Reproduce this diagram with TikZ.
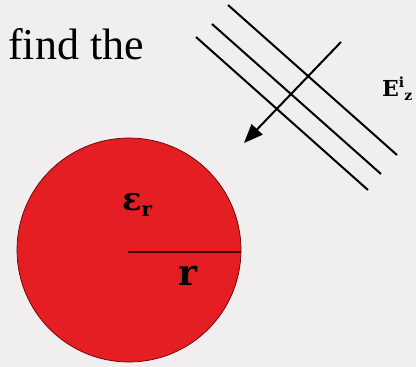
\documentclass[tikz,border=0pt]{standalone}
\usepackage{fontspec}
\newfontfamily\txtfont{Liberation Serif}
\newfontfamily\lblfont{DejaVu Serif}
\usetikzlibrary{arrows.meta}
\definecolor{bgc}{HTML}{F0EEEF}
\definecolor{ballred}{HTML}{E41E22}
\newcommand{\bigtxt}{\fontsize{44}{50}\selectfont}
\newcommand{\lblsize}[1]{\fontsize{#1}{#1}\selectfont}
\begin{document}
\begin{tikzpicture}[x=1pt,y=-1pt,
  wave/.style={line width=2pt,black},
  lbl/.style={inner sep=0pt,anchor=base west}]
\useasboundingbox (0,0) rectangle (416,367);
\fill[bgc] (0,0) rectangle (416,367);
% sphere
\coordinate (c) at (129,250);
\fill[ballred,draw=black!60!red,line width=0.7pt] (c) circle[radius=112];
\coordinate (rim) at (241,252);
\coordinate (cen) at (128,252);
\draw[black!70!red,line width=1.2pt] (cen) -- (rim);
% wave fronts
\coordinate (a1) at (228,5);   \coordinate (b1) at (397,155);
\coordinate (a2) at (212,24);  \coordinate (b2) at (381,174);
\coordinate (a3) at (196,37);  \coordinate (b3) at (368,190);
\draw[wave] (a1) -- (b1);
\draw[wave] (a2) -- (b2);
\draw[wave] (a3) -- (b3);
% propagation arrow
\coordinate (p0) at (341,42);
\coordinate (p1) at (244,143);
\draw[wave,-{Triangle[length=19pt,width=15pt]}] (p0) -- (p1);
% texts
\node[lbl,font=\txtfont\bigtxt] (find) at (8,59) {find the};
\node[lbl,font=\lblfont\bfseries] (eps) at (122,210)
  {\lblsize{32}ε\raisebox{-6pt}{\lblsize{20}r}};
\node[lbl,font=\lblfont\bfseries] (rr) at (178,285) {\lblsize{36}r};
\node[lbl,font=\lblfont\bfseries] (ez) at (382,96)
  {\lblsize{22}E\raisebox{9pt}{\lblsize{14}i}\raisebox{-4pt}{\lblsize{14}z}};
\end{tikzpicture}
\end{document}
